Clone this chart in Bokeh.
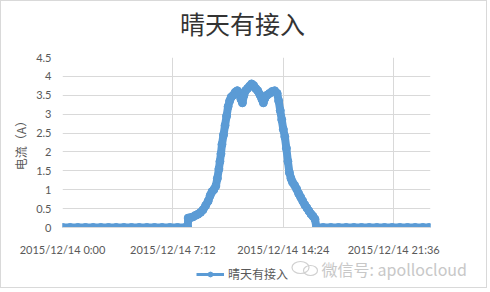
from bokeh.plotting import figure
from bokeh.layouts import column
from bokeh.models import (FixedTicker, CustomJSTickFormatter, Legend, LegendItem,
                          Label, Range1d)
from bokeh.embed import file_html
from bokeh.resources import INLINE

# ---- chart texts -------------------------------------------------------
title_text = "晴天有接入"
series_name = "晴天有接入"
y_label = "电流（A）"
watermark = "微信号: apollocloud"

x_tick_minutes = [0, 432, 864, 1296]
x_tick_labels = ["2015/12/14 0:00", "2015/12/14 7:12",
                 "2015/12/14 14:24", "2015/12/14 21:36"]
y_ticks = [0, 0.5, 1, 1.5, 2, 2.5, 3, 3.5, 4, 4.5]

# ---- measured current on 2015/12/14 (time of day, amps) -----------------
times = [
    "0:00", "0:30", "1:00", "1:30", "2:00", "2:30", "3:00", "3:30", "4:00",
    "4:30", "5:00", "5:30", "6:00", "6:30", "7:00", "7:30", "8:00", "8:10",
    "8:12", "8:20", "8:30", "8:40", "8:50", "9:00", "9:10", "9:20", "9:30",
    "9:38", "9:45", "9:52", "10:00", "10:06", "10:12", "10:16", "10:20",
    "10:24", "10:30", "10:36", "10:42", "10:48", "10:54", "11:00", "11:08",
    "11:16", "11:24", "11:32", "11:38", "11:44", "11:50", "11:56", "12:04",
    "12:12", "12:20", "12:28", "12:36", "12:44", "12:52", "13:00", "13:06",
    "13:12", "13:20", "13:30", "13:40", "13:50", "14:00", "14:06", "14:12",
    "14:18", "14:24", "14:30", "14:36", "14:42", "14:48", "14:54", "15:00",
    "15:08", "15:16", "15:24", "15:32", "15:40", "15:48", "15:56", "16:04",
    "16:12", "16:20", "16:28", "16:34", "17:00", "17:30", "18:00", "18:30",
    "19:00", "19:30", "20:00", "20:30", "21:00", "21:30", "22:00", "22:30",
    "23:00", "23:30", "23:55",
]
current = [
    0, 0, 0, 0, 0, 0, 0, 0, 0,
    0, 0, 0, 0, 0, 0, 0, 0, 0,
    0.25, 0.26, 0.28, 0.32, 0.35, 0.40, 0.47, 0.58, 0.70,
    0.85, 0.95, 1.00, 1.10, 1.30, 1.55, 1.75, 1.95,
    2.20, 2.45, 2.70, 2.95, 3.20, 3.35, 3.45, 3.50,
    3.58, 3.62, 3.55, 3.40, 3.30, 3.50, 3.62, 3.68,
    3.74, 3.80, 3.76, 3.68, 3.62, 3.52, 3.40, 3.30,
    3.42, 3.50, 3.55, 3.60, 3.62, 3.55, 3.35, 3.10,
    2.85, 2.60, 2.40, 2.10, 1.75, 1.45, 1.30, 1.20,
    1.12, 1.02, 0.90, 0.80, 0.70, 0.60, 0.52, 0.44,
    0.36, 0.30, 0.22, 0, 0, 0, 0, 0,
    0, 0, 0, 0, 0, 0, 0, 0,
    0, 0, 0,
]


def to_minutes(t):
    h, m = t.split(":")
    return int(h) * 60 + int(m)


minutes = [to_minutes(t) for t in times]

BLUE = "#5B9BD5"
GRID = "#d9d9d9"
TEXT = "#595959"
W = 485


def strip(height):
    """A bare full-width canvas used for the title and legend rows."""
    s = figure(width=W, height=height, x_range=Range1d(0, W),
               y_range=Range1d(0, height), output_backend="svg",
               toolbar_location=None, min_border=0)
    s.axis.visible = False
    s.grid.visible = False
    s.outline_line_color = None
    s.frame_align = False
    return s


# ---- title row ----------------------------------------------------------
t = strip(48)
t.add_layout(Label(x=241, y=27, text=title_text, text_align="center",
                   text_baseline="middle", text_font="Noto Sans CJK SC",
                   text_font_size="25px", text_color="#333333"))

# ---- main chart --------------------------------------------------------
p = figure(width=W, height=209,
           x_range=Range1d(0, 1440), y_range=Range1d(0, 4.5),
           output_backend="svg", toolbar_location=None,
           min_border_left=61, min_border_right=56,
           min_border_top=8, min_border_bottom=29)
p.outline_line_color = None
p.border_fill_color = "white"

p.line(minutes, current, line_color=BLUE, line_width=8,
       line_join="round", line_cap="round")
p.scatter(minutes, current, size=8, fill_color=BLUE, line_color=BLUE)

xa = p.xaxis[0]
xa.ticker = FixedTicker(ticks=x_tick_minutes)
xa.formatter = CustomJSTickFormatter(
    args=dict(pos=x_tick_minutes, labels=x_tick_labels),
    code="const i = pos.indexOf(tick); return i >= 0 ? labels[i] : '';")
xa.axis_line_color = GRID
xa.major_tick_line_color = None
xa.minor_tick_line_color = None
xa.major_tick_out = 0
xa.major_label_standoff = 15
xa.major_label_text_font = "Lato"
xa.major_label_text_font_size = "11px"
xa.major_label_text_color = TEXT

ya = p.yaxis[0]
ya.ticker = FixedTicker(ticks=y_ticks)
ya.formatter = CustomJSTickFormatter(code="return tick.toString();")
ya.axis_line_color = None
ya.major_tick_line_color = None
ya.minor_tick_line_color = None
ya.major_tick_out = 0
ya.major_label_standoff = 11
ya.major_label_text_font = "Lato"
ya.major_label_text_font_size = "11px"
ya.major_label_text_color = TEXT
ya.axis_label = y_label
ya.axis_label_text_font = "Noto Sans CJK SC"
ya.axis_label_text_font_size = "12px"
ya.axis_label_text_font_style = "normal"
ya.axis_label_text_color = TEXT
ya.axis_label_standoff = 4

p.xgrid.ticker = FixedTicker(ticks=x_tick_minutes)
p.ygrid.ticker = FixedTicker(ticks=y_ticks)
p.xgrid.grid_line_color = GRID
p.ygrid.grid_line_color = GRID

# ---- legend row --------------------------------------------------------
q = strip(29)
# key glyphs kept outside the visible range; they only feed the legend
key_line = q.line([-20, -10], [-20, -20], line_color=BLUE, line_width=3)
key_dot = q.scatter([-15], [-20], size=8, fill_color=BLUE, line_color=BLUE)
legend = Legend(items=[LegendItem(label=series_name, renderers=[key_line, key_dot])],
                location=(195, 5), orientation="horizontal",
                label_text_font="Noto Sans CJK SC", label_text_font_size="12px",
                label_text_color=TEXT, glyph_width=28, glyph_height=12,
                border_line_color=None, background_fill_alpha=0,
                padding=2, margin=0, spacing=0, label_standoff=4)
q.add_layout(legend)

# faint account watermark with its chat-bubble mark
q.ellipse(x=[299, 309], y=[20, 17], width=[17, 14], height=[12, 10],
          fill_color=None, line_color="#d0d0d0", line_width=1.2)
q.add_layout(Label(x=320, y=19, text=watermark, text_baseline="middle",
                   text_font="Noto Sans CJK SC", text_font_size="16px",
                   text_color="#c8c8c8"))

layout = column(t, p, q, spacing=0, styles={"border": "1px solid #d9d9d9"})

open("out.html", "w").write(file_html(layout, INLINE))
